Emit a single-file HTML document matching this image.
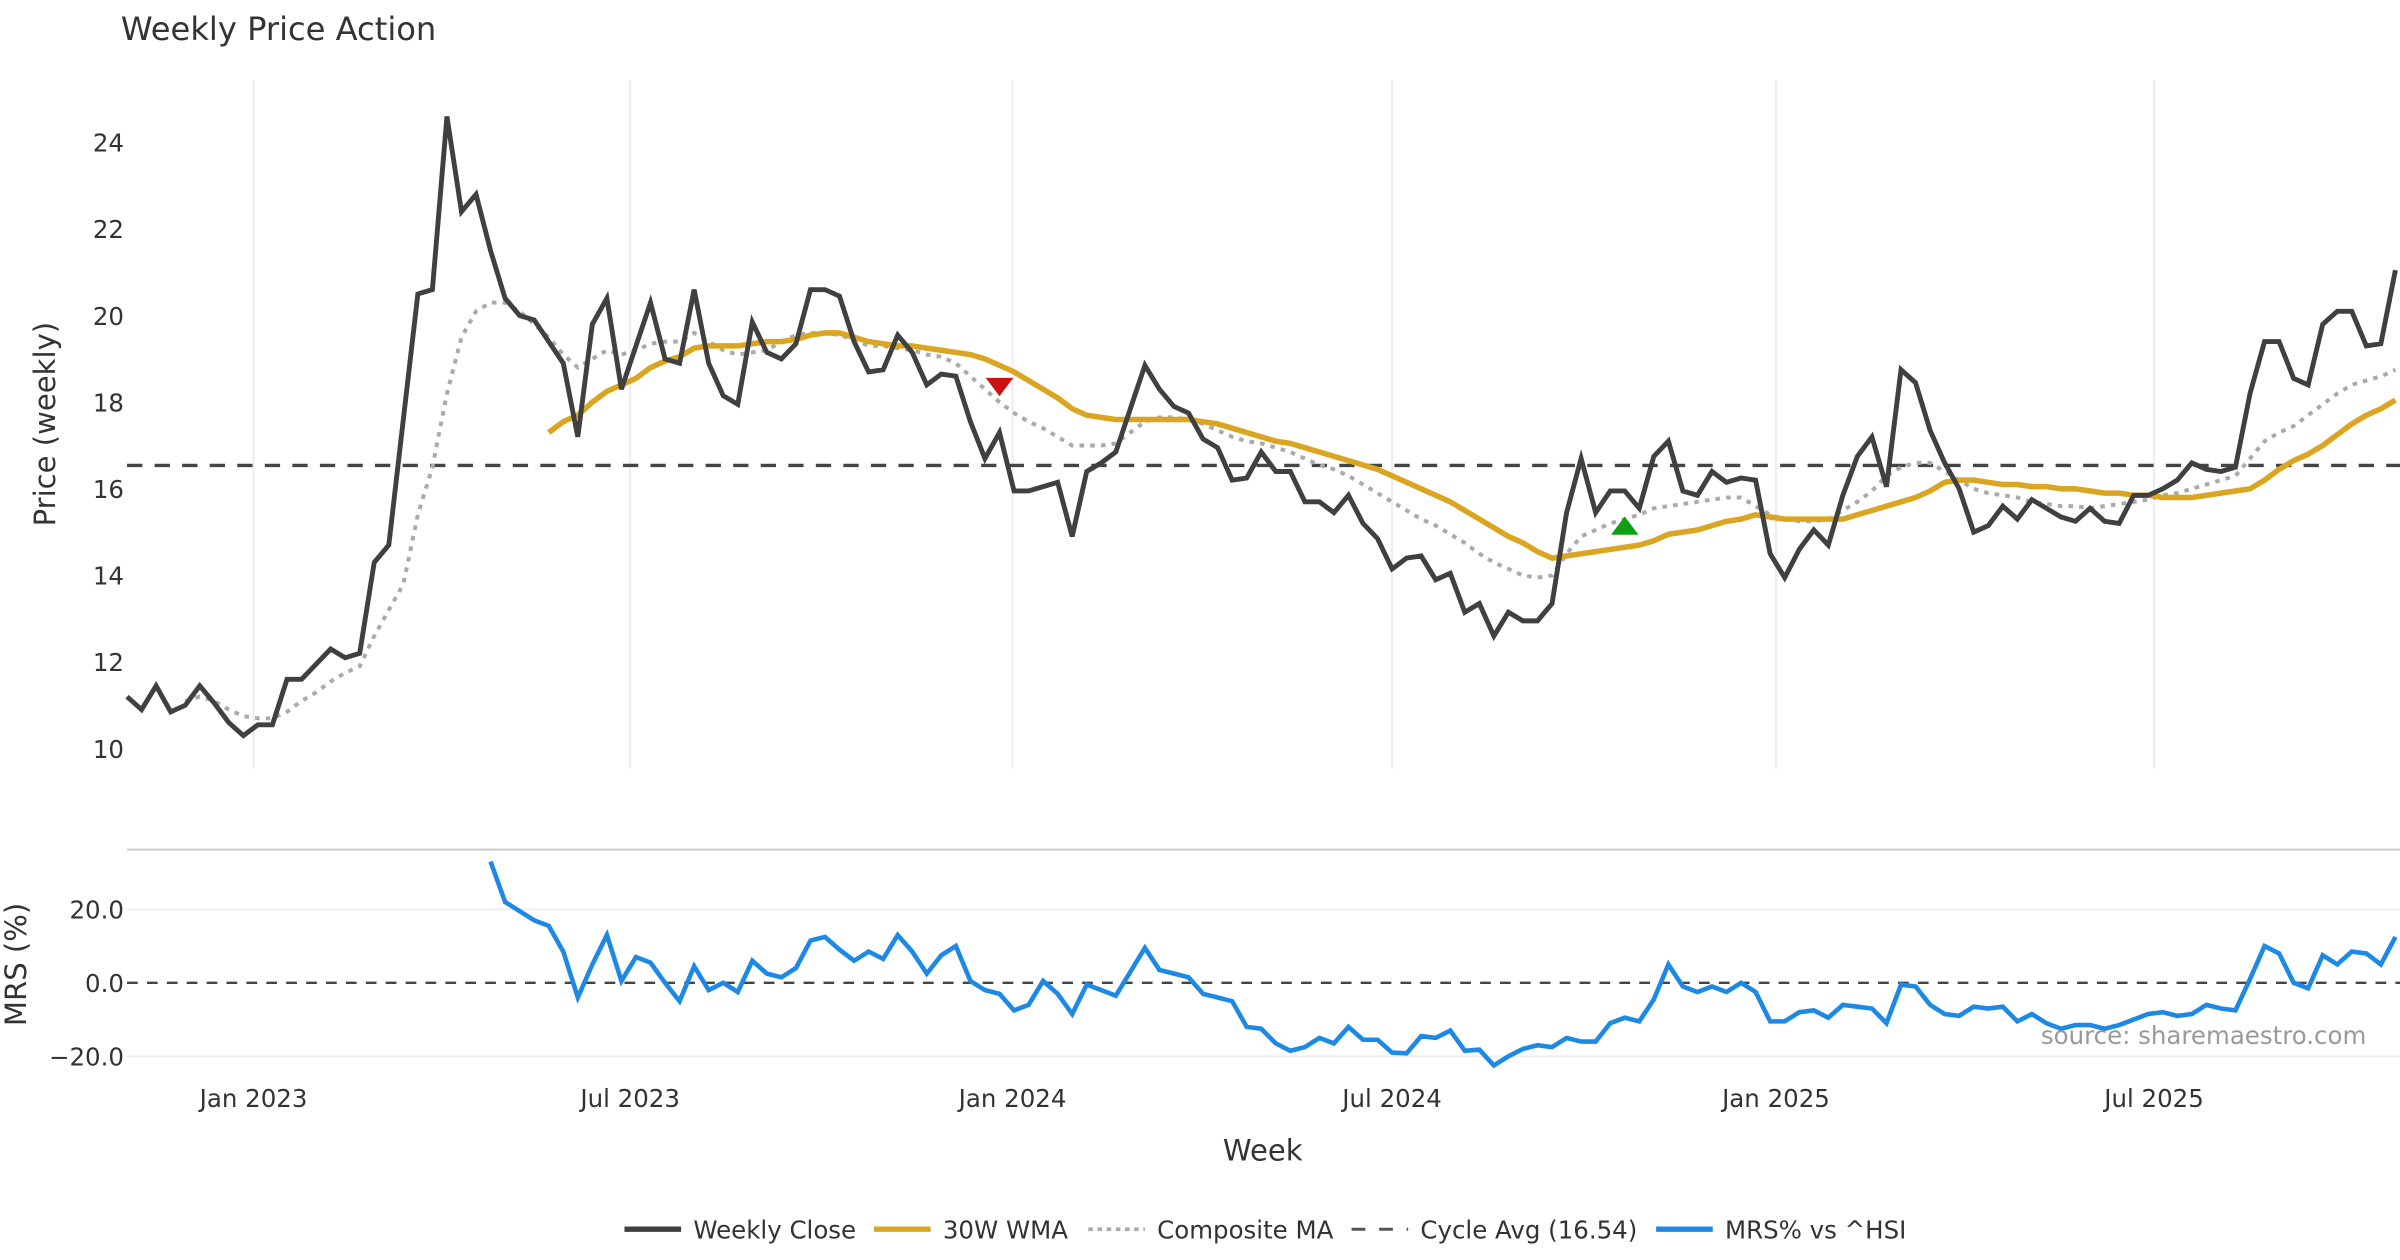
<!DOCTYPE html>
<html><head><meta charset="utf-8"><style>
html,body{margin:0;padding:0;background:#fff;}
svg{display:block;font-family:"DejaVu Sans","Liberation Sans",sans-serif;}
</style></head><body>
<svg id="chart" width="2400" height="1260" viewBox="0 0 1568 823" xmlns="http://www.w3.org/2000/svg">
<rect width="1568" height="823" fill="#fff"/>
<text x="79" y="26" font-size="21" fill="#333">Weekly Price Action</text>
<g id="grid"></g>
<g id="ticks"></g>
<line x1="83" y1="555" x2="1568" y2="555" stroke="#cccccc" stroke-width="1.3"/>
<g id="series"></g>
<text transform="translate(36,277) rotate(-90)" text-anchor="middle" font-size="19" fill="#333">Price (weekly)</text>
<text transform="translate(17,630) rotate(-90)" text-anchor="middle" font-size="19" fill="#333">MRS (%)</text>
<text x="825" y="758" text-anchor="middle" font-size="19" fill="#333">Week</text>
<text x="1546" y="682" text-anchor="end" font-size="16" fill="#999">source: sharemaestro.com</text>
<g font-size="16" fill="#333">
 <g><line x1="408" y1="803" x2="445" y2="803" stroke="#404040" stroke-width="3.5"/><text x="453" y="809">Weekly Close</text></g>
 <g><line x1="571" y1="803" x2="608" y2="803" stroke="#DAA520" stroke-width="3.5"/><text x="616" y="809">30W WMA</text></g>
 <g><line x1="711" y1="803" x2="748" y2="803" stroke="#aaaaaa" stroke-width="2.5" stroke-dasharray="3,3"/><text x="756" y="809">Composite MA</text></g>
 <g><line x1="883" y1="803" x2="920" y2="803" stroke="#555" stroke-width="2" stroke-dasharray="9,9"/><text x="928" y="809">Cycle Avg (16.54)</text></g>
 <g><line x1="1082" y1="803" x2="1119" y2="803" stroke="#1E88E5" stroke-width="3.5"/><text x="1127" y="809">MRS% vs ^HSI</text></g>
</g>
</svg>
<script>
const closeVals=[11.2,10.9,11.45,10.85,11.0,11.45,11.05,10.6,10.3,10.55,10.55,11.6,11.6,11.95,12.3,12.1,12.2,14.3,14.7,17.6,20.5,20.6,24.6,22.4,22.8,21.5,20.4,20.0,19.9,19.4,18.9,17.2,19.8,20.4,18.3,19.3,20.3,19.0,18.9,20.6,18.9,18.15,17.95,19.85,19.15,19.0,19.35,20.6,20.6,20.45,19.4,18.7,18.75,19.55,19.15,18.4,18.65,18.6,17.55,16.7,17.3,15.95,15.95,16.05,16.15,14.9,16.4,16.6,16.85,17.85,18.85,18.3,17.9,17.75,17.15,16.95,16.2,16.25,16.85,16.4,16.4,15.7,15.7,15.45,15.85,15.2,14.85,14.15,14.4,14.45,13.9,14.05,13.15,13.35,12.6,13.15,12.95,12.95,13.35,15.45,16.7,15.45,15.95,15.95,15.55,16.75,17.1,15.95,15.85,16.4,16.15,16.25,16.2,14.5,13.95,14.6,15.05,14.7,15.85,16.75,17.2,16.05,18.75,18.45,17.35,16.6,16.0,15.0,15.15,15.6,15.3,15.75,15.55,15.35,15.25,15.55,15.25,15.2,15.85,15.85,16.0,16.2,16.6,16.45,16.4,16.5,18.2,19.4,19.4,18.55,18.4,19.8,20.1,20.1,19.3,19.35,21.05];
const wmaStart=29;
const wmaVals=[17.3,17.55,17.7,18.0,18.25,18.4,18.55,18.8,18.95,19.05,19.25,19.3,19.3,19.3,19.35,19.4,19.4,19.45,19.55,19.6,19.6,19.5,19.4,19.35,19.3,19.3,19.25,19.2,19.15,19.1,19.0,18.85,
18.7,18.5,18.3,18.1,17.85,17.7,17.65,17.6,17.6,17.6,17.6,17.6,17.6,17.55,17.5,17.4,17.3,17.2,17.1,17.05,16.95,16.85,16.75,16.65,16.55,16.45,16.3,16.15,16.0,15.85,15.7,15.5,15.3,15.1,14.9,14.75,14.55,14.4,
14.45,14.5,14.55,14.6,14.65,14.7,14.8,14.95,15.0,15.05,15.15,15.25,15.3,15.4,
15.35,15.3,15.3,15.3,15.3,15.3,15.4,15.5,15.6,15.7,15.8,15.95,16.15,16.2,
16.2,16.15,16.1,16.1,16.05,16.05,16.0,16.0,15.95,15.9,15.9,15.85,15.85,15.8,15.8,15.8,15.85,15.9,15.95,
16.0,16.2,16.45,16.65,16.8,17.0,17.25,17.5,17.7,17.85,18.05];
const compStart=4;
const compVals=[11.1,11.2,11.1,10.9,10.75,10.7,10.7,10.85,11.1,11.3,11.55,11.75,11.9,12.6,13.2,13.8,15.4,16.5,18.2,19.5,20.1,20.3,20.3,20.1,19.8,19.5,19.1,18.8,19.0,19.2,19.1,19.2,19.35,19.4,19.4,19.6,19.4,19.2,19.1,19.15,19.2,19.4,19.55,19.6,19.6,19.55,19.45,19.3,19.3,19.25,19.2,19.1,19.05,18.9,18.6,18.3,18.0,17.75,17.55,17.4,17.2,17.0,17.0,17.0,17.05,17.3,17.55,17.65,17.65,17.6,17.5,17.35,17.2,17.1,17.05,16.95,16.85,16.7,16.55,16.45,16.3,16.1,15.9,15.7,15.5,15.3,15.15,14.95,14.75,14.5,14.3,14.15,14.0,13.95,14.0,14.5,14.9,15.05,15.2,15.3,15.4,15.55,15.6,15.65,15.7,15.75,15.8,15.8,15.6,15.4,15.3,15.25,15.25,15.3,15.5,15.7,15.95,16.3,16.5,16.6,16.6,16.4,16.2,16.0,15.9,15.85,15.8,15.7,15.65,15.6,15.6,15.55,15.6,15.65,15.7,15.75,15.85,15.9,16.0,16.1,16.2,16.3,16.7,17.1,17.3,17.45,17.7,17.95,18.2,18.4,18.5,18.6,18.75];
const mrsVals=[33,22,19.5,17,15.5,8.5,-4,5,13,0.5,7,5.5,0,-5,4.5,-2,0,-2.5,6,2.5,1.5,4,11.5,12.5,9,6,8.5,6.5,13,8.5,2.5,7.5,10,0.5,-2,-3,-7.5,-6,0.5,-3,-8.5,-0.5,-2,-3.5,3,9.5,3.5,2.5,1.5,-3,-4,-5,-12,-12.5,-16.5,-18.5,-17.5,-15,-16.5,-12,-15.5,-15.5,-19,-19.2,-14.5,-15,-13,-18.5,-18.2,-22.5,-20,-18,-17,-17.5,-15,-16,-16,-11,-9.5,-10.5,-4.5,5,-1,-2.5,-1,-2.5,0,-2.5,-10.5,-10.5,-8,-7.5,-9.5,-6,-6.5,-7,-11,-0.5,-1,-6,-8.5,-9,-6.5,-7,-6.5,-10.5,-8.5,-11,-12.5,-11.5,-11.5,-12.5,-11.5,-10,-8.5,-8,-9,-8.5,-6,-7,-7.5,1,10,8,0,-1.5,7.5,5,8.5,8,5,12.5];
const cycleAvg=16.54;
const priceTicks=[10,12,14,16,18,20,22,24];
const mrsTicks=[20,0,-20];
const mrsTickLabels=["20.0","0.0","\u221220.0"];
const dateTickLabels=["Jan 2023","Jul 2023","Jan 2024","Jul 2024","Jan 2025","Jul 2025"];
const dateTickIndex=[8.7,34.6,60.9,87.0,113.4,139.4];
const sellSignal={i:60,v:18.35};
const buySignal={i:103,v:15.15};

const N=closeVals.length;
const xS=i=>83+i*(1565-83)/(N-1);
const yP=v=>489-(v-10)*28.29;
const yM=v=>642-v*2.4;
const NS="http://www.w3.org/2000/svg";
function mk(tag,attrs,parent){const e=document.createElementNS(NS,tag);for(const k in attrs)e.setAttribute(k,attrs[k]);parent.appendChild(e);return e;}
const grid=document.getElementById('grid'),ticks=document.getElementById('ticks'),ser=document.getElementById('series');
dateTickIndex.forEach((d,k)=>{
  const x=xS(d);
  const g=mk('line',{x1:x,y1:52,x2:x,y2:502,stroke:'#ececec','stroke-width':1.2},grid);
  
  
  const t=mk('text',{x:x,y:723,'text-anchor':'middle','font-size':16,fill:'#333'},ticks);
  t.textContent=dateTickLabels[k];
  
  
});
priceTicks.forEach(v=>{
  const t=mk('text',{x:81,y:yP(v)+6,'text-anchor':'end','font-size':16,fill:'#333'},ticks);
  t.textContent=v;
  
  
});
mrsTicks.forEach((v,k)=>{
  if(v!==0){const g=mk('line',{x1:83,y1:yM(v),x2:1568,y2:yM(v),stroke:'#eeeeee','stroke-width':1.2},grid);
  
  }
  const t=mk('text',{x:81,y:yM(v)+6,'text-anchor':'end','font-size':16,fill:'#333'},ticks);
  t.textContent=mrsTickLabels[k];
  
  
});
function path(vals,start,yf){return vals.map((v,j)=>(j?'L':'M')+xS(start+j).toFixed(2)+','+yf(v).toFixed(2)).join('');}
const cyc=mk('line',{x1:83,y1:yP(cycleAvg),x2:1568,y2:yP(cycleAvg),stroke:'#444','stroke-width':2.2,'stroke-dasharray':'10,8'},ser);


const zero=mk('line',{x1:83,y1:yM(0),x2:1568,y2:yM(0),stroke:'#444','stroke-width':1.5,'stroke-dasharray':'7,6'},ser);


const comp=mk('path',{d:path(compVals,compStart,yP),fill:'none',stroke:'#aaaaaa','stroke-width':2.6,'stroke-dasharray':'3,4'},ser);


const wma=mk('path',{d:path(wmaVals,wmaStart,yP),fill:'none',stroke:'#DAA520','stroke-width':3.6,'stroke-linejoin':'round'},ser);


const cl=mk('path',{d:path(closeVals,0,yP),fill:'none',stroke:'#404040','stroke-width':3.2,'stroke-linejoin':'miter'},ser);


const mrs=mk('path',{d:path(mrsVals,N-mrsVals.length,yM),fill:'none',stroke:'#1E88E5','stroke-width':3},ser);


let sx=xS(sellSignal.i),sy=yP(sellSignal.v);
const sell=mk('polygon',{points:`${sx-9},${sy-6} ${sx+9},${sy-6} ${sx},${sy+6}`,fill:'#CC1111'},ser);


let bx=xS(buySignal.i),by=yP(buySignal.v);
const buy=mk('polygon',{points:`${bx-9},${by+6} ${bx+9},${by+6} ${bx},${by-6}`,fill:'#11A011'},ser);


</script>
</body></html>
